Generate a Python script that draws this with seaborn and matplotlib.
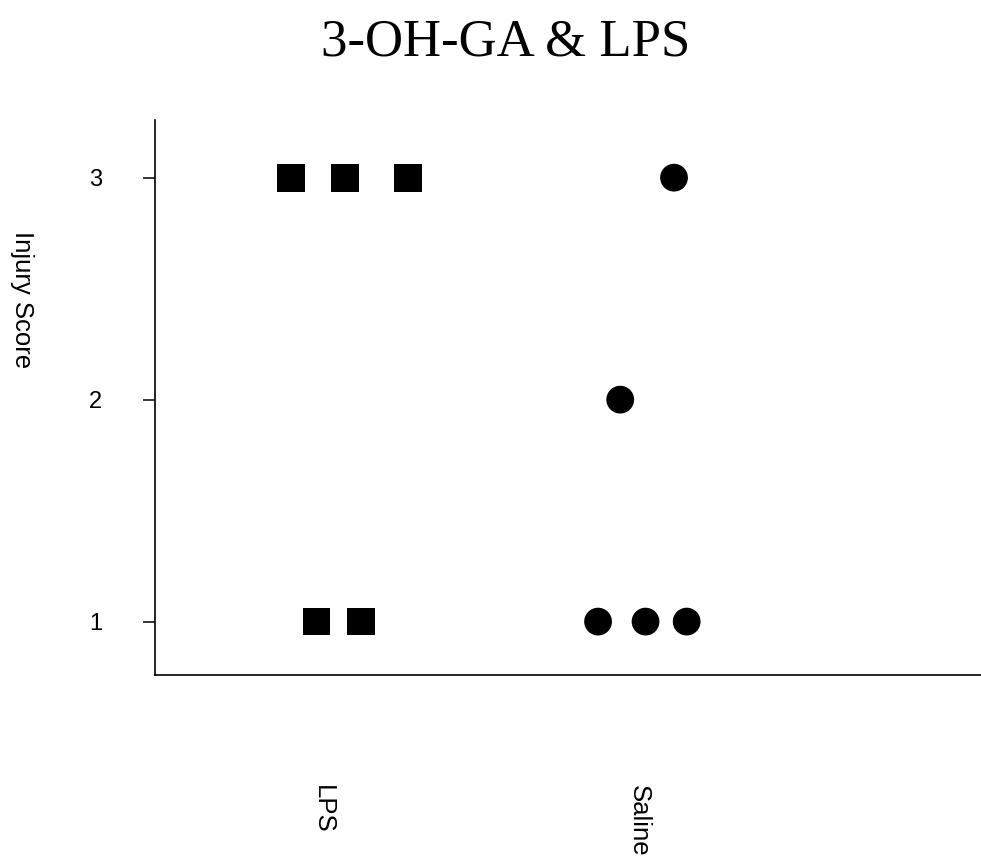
import matplotlib
matplotlib.use("Agg")
import matplotlib.pyplot as plt
import seaborn as sns
import pandas as pd

# Injury scores per animal, by treatment group
groups = ["LPS", "Saline"]
lps_scores = [3, 3, 3, 1, 1]
saline_scores = [3, 2, 1, 1, 1]
# horizontal spread of the individual animals within each group (category units)
lps_spread = [-0.10, 0.07, 0.27, -0.02, 0.12]
saline_spread = [0.11, -0.06, -0.13, 0.02, 0.15]
y_ticks = [1, 2, 3]

rows = []
for gi, (g, scores, spread) in enumerate(zip(groups, [lps_scores, saline_scores],
                                             [lps_spread, saline_spread])):
    for s, d in zip(scores, spread):
        rows.append({"group": g, "score": s, "pos": gi + d})
df = pd.DataFrame(rows)

sns.set_theme(style="white")
plt.rcParams["font.family"] = ["Liberation Sans", "DejaVu Sans"]
plt.rcParams["text.color"] = "black"
plt.rcParams["axes.labelcolor"] = "black"
plt.rcParams["xtick.color"] = "black"
plt.rcParams["ytick.color"] = "black"

fig = plt.figure(figsize=(9.81, 8.63), dpi=100)
ax = fig.add_axes([0.158, 0.218, 0.842, 0.643])

sns.scatterplot(data=df, x="pos", y="score", style="group",
                markers={"LPS": "s", "Saline": "o"}, color="black",
                s=400, edgecolor="black", linewidth=0, legend=False, ax=ax)

ax.set_xlim(-0.53, 2.08)
ax.set_ylim(0.76, 3.26)
ax.set_xticks(range(len(groups)))
ax.set_xticklabels(groups, rotation=270, fontsize=18.5, va="top", ha="center")
ax.set_yticks(y_ticks)
ax.set_yticklabels([str(t) for t in y_ticks], fontsize=17)
ax.tick_params(axis="x", length=0, pad=79)
ax.tick_params(axis="y", direction="out", length=9, width=1.1, pad=29,
               color="black", left=True)

for side in ["top", "right"]:
    ax.spines[side].set_visible(False)
for side in ["left", "bottom"]:
    ax.spines[side].set_color("black")
    ax.spines[side].set_linewidth(1.2)

ax.set_xlabel("")
ax.set_ylabel("Injury Score", rotation=270, fontsize=18.5, va="center", ha="center")
ax.yaxis.set_label_coords(-0.161, 0.676)

fig.text(0.515, 0.951, "3-OH-GA & LPS", ha="center", va="center",
         fontsize=38, family=["Liberation Serif", "DejaVu Serif"])

fig.savefig("out.png", dpi=100, facecolor="white")
